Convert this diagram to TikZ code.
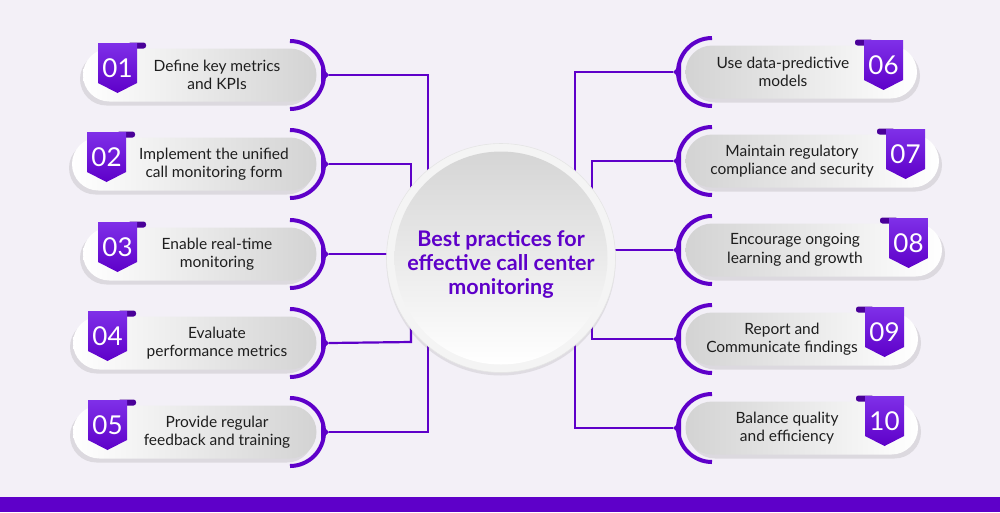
\documentclass[tikz,border=0pt]{standalone}
\usepackage{fontspec}
\setmainfont{Lato}
\usetikzlibrary{shadows}
\definecolor{bg}{HTML}{F3F0F7}
\definecolor{pur}{HTML}{5E00C9}
\definecolor{purL}{HTML}{7F30E8}
\definecolor{purD}{HTML}{4A0099}
\definecolor{pgray}{HTML}{D3D3D3}
\definecolor{ink}{HTML}{1E1E1E}
\definecolor{ring}{HTML}{F4F4F4}
\definecolor{hubtop}{HTML}{D5D5D5}
\begin{document}
\begin{tikzpicture}[x=1pt,y=-1pt,
  conn/.style={draw=pur, line width=2.2pt},
  bracket/.style={draw=pur, line width=4pt},
  pillshadowL/.style={drop shadow={fill=black!60, opacity=0.16, shadow xshift=-3pt, shadow yshift=-4pt}},
  pillshadowR/.style={drop shadow={fill=black!60, opacity=0.16, shadow xshift=3pt, shadow yshift=-4pt}},
  numtext/.style={text=white, font=\fontsize{26}{26}\selectfont, inner sep=0pt},
  itemtext/.style={text=ink, align=center, font=\fontsize{15.5}{18.5}\selectfont, inner sep=0pt},
  titletext/.style={text=pur, align=center, font=\fontsize{21.5}{24}\selectfont\bfseries, inner sep=0pt}
]
\fill[bg] (0,0) rectangle (1000,512);
\useasboundingbox (0,0) rectangle (1000,512);

% left items
\foreach \i/\cy/\lx/\tx/\num/\ta/\tb in {1/75/83/217/01/Define key metrics/and KPIs,2/164/72/214/02/Implement the unified/call monitoring form,3/254/83/217/03/Enable real-time/monitoring,4/343/73/217/04/Evaluate/performance metrics,5/432/73/217/05/Provide regular/feedback and training}
{
  \shade[left color=white, right color=pgray, rounded corners=26.5pt, pillshadowL] (\lx,\cy-26.5) rectangle (316.5,\cy+26.5);
  \draw[bracket] (290,\cy-34) arc[start angle=-90, end angle=90, radius=34];
  \fill[pur] (321,\cy-8) -- (329,\cy) -- (321,\cy+8) -- cycle;
  \coordinate (tip\i) at (329,\cy);
  \pgfmathsetmacro\bx{\lx+15}
  \fill[purD, rounded corners=2.5pt] (\bx+30,\cy-32.5) rectangle (\bx+48,\cy-26.5);
  \shade[top color=purL, bottom color=pur] (\bx,\cy-32) -- (\bx+39,\cy-32) -- (\bx+39,\cy+8) -- (\bx+19.5,\cy+18) -- (\bx,\cy+8) -- cycle;
  \node[numtext] (num\i) at (\bx+19.5,\cy-7) {\num};
  \node[itemtext] (txt\i) at (\tx,\cy) {\ta\\\tb};
}

% right items
\foreach \i/\cy/\rx/\tx/\num/\ta/\tb in {6/72/917/783/06/Use data-predictive/models,7/161/939/792/07/Maintain regulatory/compliance and security,8/250/942/795/08/Encourage ongoing/learning and growth,9/339/918/782/09/Report and/Communicate findings,10/428/918/787/10/Balance quality/and efficiency}
{
  \shade[left color=pgray, right color=white, rounded corners=26.5pt, pillshadowR] (685.5,\cy-26.5) rectangle (\rx,\cy+26.5);
  \draw[bracket] (712,\cy+34) arc[start angle=90, end angle=270, radius=34];
  \fill[pur] (681,\cy-8) -- (673,\cy) -- (681,\cy+8) -- cycle;
  \coordinate (tip\i) at (673,\cy);
  \pgfmathsetmacro\bx{\rx-14}
  \fill[purD, rounded corners=2.5pt] (\bx-48,\cy-32.5) rectangle (\bx-30,\cy-26.5);
  \shade[top color=purL, bottom color=pur] (\bx-39,\cy-32) -- (\bx,\cy-32) -- (\bx,\cy+8) -- (\bx-19.5,\cy+18) -- (\bx-39,\cy+8) -- cycle;
  \node[numtext] (num\i) at (\bx-19.5,\cy-7) {\num};
  \node[itemtext] (txt\i) at (\tx,\cy) {\ta\\\tb};
}

% connector corners and ends (ends lie under the hub)
\coordinate (k1) at (428,75);  \coordinate (e1) at (428,200);
\coordinate (k2) at (411,164); \coordinate (e2) at (411,200);
\coordinate (e3) at (420,254);
\coordinate (k4) at (411,342); \coordinate (e4) at (411,310);
\coordinate (k5) at (428,432); \coordinate (e5) at (428,320);
\coordinate (k6) at (575,72);  \coordinate (e6) at (575,200);
\coordinate (k7) at (592,161); \coordinate (e7) at (592,200);
\coordinate (e8) at (580,250);
\coordinate (k9) at (592,339); \coordinate (e9) at (592,310);
\coordinate (k10) at (575,428); \coordinate (e10) at (575,320);

\draw[conn] (tip1) -- (k1) -- (e1);
\draw[conn] (tip2) -- (k2) -- (e2);
\draw[conn] (tip3) -- (e3);
\draw[conn] (tip4) -- (k4) -- (e4);
\draw[conn] (tip5) -- (k5) -- (e5);
\draw[conn] (tip6) -- (k6) -- (e6);
\draw[conn] (tip7) -- (k7) -- (e7);
\draw[conn] (tip8) -- (e8);
\draw[conn] (tip9) -- (k9) -- (e9);
\draw[conn] (tip10) -- (k10) -- (e10);

% hub
\node[circle, minimum size=229pt, inner sep=0pt, fill=ring, draw=black!10, line width=0.6pt,
      drop shadow={fill=black!60, opacity=0.14, shadow xshift=0pt, shadow yshift=-3pt}] (hub) at (501,258) {};
\node[circle, minimum size=213pt, inner sep=0pt, top color=hubtop, bottom color=white] (hubin) at (501,258) {};
\node[titletext] (title) at (501,264) {Best practices for\\effective call center\\monitoring};

% bottom band
\fill[pur] (0,497) rectangle (1000,512);
\end{tikzpicture}
\end{document}
